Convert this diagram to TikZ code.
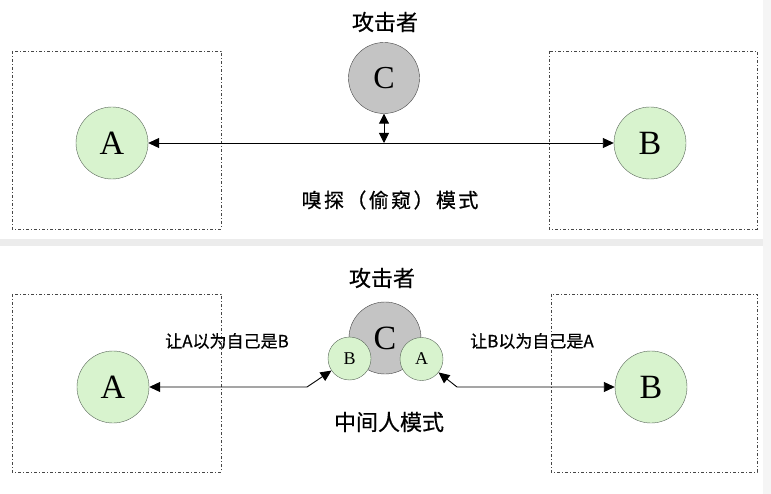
\documentclass[tikz,border=0pt]{standalone}
\usepackage{fontspec}
\usepackage{tikz}
\usepackage{xcolor}
\usetikzlibrary{arrows.meta,positioning,calc}
\setmainfont{Liberation Serif}
\newfontfamily\cjk[FakeBold=0.6]{Noto Sans CJK SC}
\newfontfamily\cjkwide[FakeBold=0.6,LetterSpace=12]{Noto Sans CJK SC}
\definecolor{hostgreen}{RGB}{216,243,206}
\definecolor{hostedge}{RGB}{90,104,90}
\definecolor{attackgray}{RGB}{196,196,196}
\definecolor{boxedge}{RGB}{70,70,70}

\begin{document}
\begin{tikzpicture}[x=1pt,y=-1pt,
    host/.style={circle,draw=hostedge,fill=hostgreen,inner sep=0,minimum size=72pt,font=\fontsize{34pt}{34pt}\selectfont},
    attacker/.style={circle,draw=boxedge,fill=attackgray,inner sep=0,minimum size=71pt,font=\fontsize{32pt}{32pt}\selectfont},
    fake/.style={circle,draw=hostedge,fill=hostgreen,inner sep=0,minimum size=43pt,font=\fontsize{18pt}{18pt}\selectfont},
    zone/.style={draw=boxedge,line width=0.8pt,dash pattern=on 3pt off 2pt on 1pt off 2pt},
    link/.style={line width=0.9pt,{Triangle[length=11pt,width=10pt]}-{Triangle[length=11pt,width=10pt]}},
    title/.style={font=\cjk\fontsize{22pt}{22pt}\selectfont},
    note/.style={font=\cjk\fontsize{17pt}{17pt}\selectfont}]
    \useasboundingbox (0,0) rectangle (771,494);
    \fill[white] (0,0) rectangle (771,494);

    % separator between the two modes
    \fill[gray!15] (0,239) rectangle (771,246);
    \fill[gray!8] (763,0) rectangle (771,494);

    % ---- sniffing mode ----
    \draw[zone] (12,51) rectangle (221,229);
    \draw[zone] (549,51) rectangle (757,229);

    \node[host] (A) at (112,143) {A};
    \node[host] (B) at (650,143) {B};
    \node[attacker] (C) at (384,78) {C};
    \node[title] (Ctop) at (385,22) {攻击者};
    \node[font=\cjkwide\fontsize{20pt}{20pt}\selectfont] (sniff) at (390,200) {嗅探（偷窥）模式};

    \coordinate (tap) at (C |- A);
    \draw[link] (A) -- (B);
    \draw[link,{Triangle[length=10pt,width=10pt]}-{Triangle[length=10pt,width=10pt]}] (C) -- (tap);

    % ---- man in the middle mode ----
    \draw[zone] (12,294) rectangle (221,472);
    \draw[zone] (551,294) rectangle (757,472);

    \node[host] (A2) at (113,387) {A};
    \node[host] (B2) at (651,387) {B};
    \node[attacker,minimum size=72pt,font=\fontsize{34pt}{34pt}\selectfont] (C2) at (385,338) {C};
    \node[fake] (fakeB) at (349.5,358.5) {B};
    \node[fake] (fakeA) at (421.5,359) {A};
    \node[title] (Cbot) at (382,278) {攻击者};
    \node[font=\cjk\fontsize{22pt}{22pt}\selectfont] (mitm) at (389,422) {中间人模式};
    \node[note] (tellA) at (227,341) {让A以为自己是B};
    \node[note] (tellB) at (532,341) {让B以为自己是A};

    \coordinate (bendL) at (307,387);
    \coordinate (bendR) at (457,387);
    \draw[link] (A2) -- (bendL) -- (fakeB);
    \draw[link] (B2) -- (bendR) -- (fakeA);

\end{tikzpicture}
\end{document}
